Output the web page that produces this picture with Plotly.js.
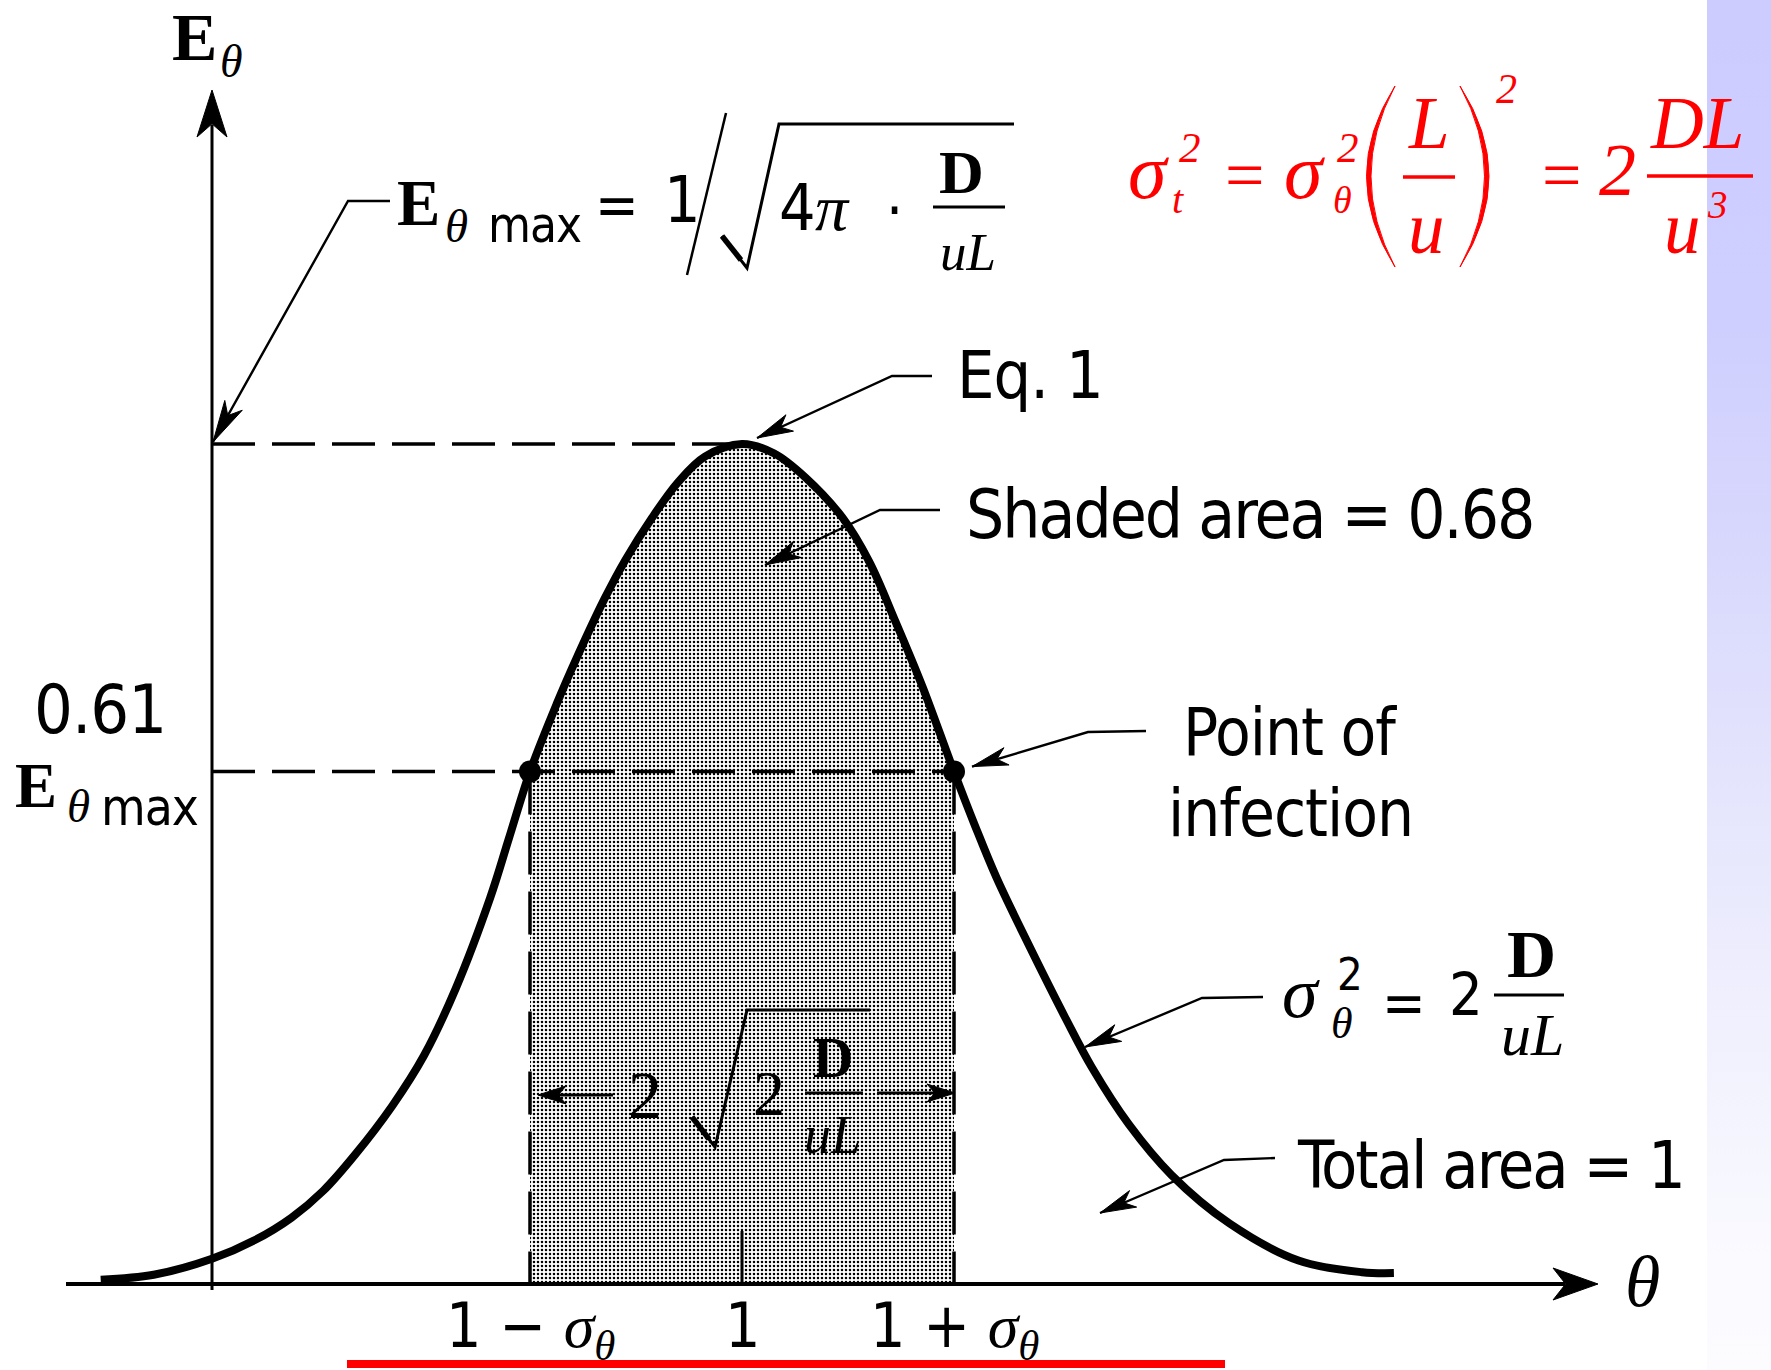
<!DOCTYPE html>
<html>
<head>
<meta charset="utf-8">
<script src="https://cdn.plot.ly/plotly-3.0.1.min.js"></script>
<style>
  html, body { margin: 0; padding: 0; background: #ffffff; overflow: hidden; }
  #wrap { position: relative; width: 1771px; height: 1370px; overflow: hidden; }
  #band { position: absolute; left: 1707px; top: 0; width: 64px; height: 1370px;
          background: linear-gradient(to bottom, #ccccff 0%, #ceceff 22%, #d8d8fd 40%, #e5e5fd 58%, #f1f1fe 76%, #fafaff 92%, #fcfcff 100%); }
  #chart { position: absolute; left: 0; top: 0; width: 1771px; height: 1370px; }
</style>
</head>
<body>
<div id="wrap"><div id="band"></div><div id="chart"></div></div>
<script>
// ---------------------------------------------------------------------------
// Dispersion model: exit-age distribution Eθ versus dimensionless time θ
// ---------------------------------------------------------------------------

// dimensionless time θ = t / t̄
const theta = [-0.21, -0.11, 0.00, 0.08, 0.15, 0.21, 0.27, 0.34, 0.40, 0.46,
               0.525, 0.56, 0.60, 0.65, 0.69, 0.74, 0.78, 0.83, 0.88, 0.93,
               1.00, 1.06, 1.12, 1.19, 1.24, 1.29, 1.34, 1.40, 1.44, 1.48,
               1.54, 1.61, 1.66, 1.73, 1.81, 1.92, 2.05, 2.17, 2.23];
// Eθ in units of Eθmax
const eTheta = [0.005, 0.011, 0.030, 0.052, 0.079, 0.111, 0.154, 0.212, 0.272, 0.352,
                0.460, 0.530, 0.610, 0.690, 0.748, 0.815, 0.862, 0.912, 0.955, 0.985,
                1.000, 0.989, 0.960, 0.912, 0.860, 0.788, 0.712, 0.610, 0.545, 0.484,
                0.405, 0.317, 0.258, 0.190, 0.130, 0.072, 0.028, 0.014, 0.013];

const sigmaTheta = 0.4;          // σθ
const eMax = 1.0;                // Eθmax (peak height)
const inflectionHeight = 0.61;   // Eθ at the points of inflection, in units of Eθmax
const tickTheta = [1 - sigmaTheta, 1, 1 + sigmaTheta];

// ---------------------------------------------------------------------------
const SANS = "'DejaVu Sans Condensed','DejaVu Sans',sans-serif";
const SERIF = "'Liberation Serif','DejaVu Serif','Times New Roman',serif";
const RED = '#ff0000';
const INK = '#000000';

const W = 1771, H = 1370;
const X0 = 212, XU = 530;   // pixel column of θ = 0, pixels per unit θ
const Y0 = 1284, YU = 840;  // pixel row of Eθ = 0, pixels per unit Eθ
const xRange = [-X0 / XU, (W - X0) / XU];
const yRange = [-(H - Y0) / YU, Y0 / YU];

const fx = p => p / W;          // paper x from pixel column
const fy = p => 1 - p / H;      // paper y from pixel row
const dataPx = t => X0 + t * XU;
const dataPy = e => Y0 - e * YU;

function pathPx(pts, close) {
  return pts.map((p, i) => (i ? 'L' : 'M') + fx(p[0]).toFixed(5) + ',' + fy(p[1]).toFixed(5)).join(' ') + (close ? ' Z' : '');
}
const shapes = [];
function stroke(pts, width, color, layer) {
  shapes.push({ type: 'path', xref: 'paper', yref: 'paper', path: pathPx(pts),
                line: { color: color || INK, width }, fillcolor: 'rgba(0,0,0,0)', layer: layer || 'above' });
}
function head(from, tip, len, half, color, layer) {
  const dx = tip[0] - from[0], dy = tip[1] - from[1], d = Math.hypot(dx, dy);
  const ux = dx / d, uy = dy / d, nx = -uy, ny = ux;
  const bx = tip[0] - ux * len, by = tip[1] - uy * len;
  const mx = tip[0] - ux * len * 0.72, my = tip[1] - uy * len * 0.72;
  shapes.push({ type: 'path', xref: 'paper', yref: 'paper',
                path: pathPx([tip, [bx + nx * half, by + ny * half], [mx, my], [bx - nx * half, by - ny * half]], true),
                fillcolor: color || INK, line: { color: color || INK, width: 1 }, layer: layer || 'above' });
}
function leader(pts, len, half) {
  stroke(pts, 2.4);
  head(pts[pts.length - 2], pts[pts.length - 1], len || 36, half || 9);
}

// --- axes -----------------------------------------------------------------
shapes.push({ type: 'line', xref: 'x', yref: 'paper', x0: 0, x1: 0, y0: fy(1290), y1: fy(125),
              line: { color: INK, width: 3 }, layer: 'below' });
head([dataPx(0), 300], [dataPx(0), 90], 47, 15, INK, 'below');
shapes.push({ type: 'line', xref: 'paper', yref: 'y', x0: fx(66), x1: fx(1565), y0: 0, y1: 0,
              line: { color: INK, width: 4 }, layer: 'below' });
head([1400, dataPy(0)], [1598, dataPy(0)], 45, 16, INK, 'below');
// tick at θ = 1
shapes.push({ type: 'line', xref: 'x', yref: 'y', x0: 1, x1: 1, y0: 0, y1: 53 / YU,
              line: { color: INK, width: 3 }, layer: 'below' });

// --- guide lines ----------------------------------------------------------
const DASH = '43px,17px';
shapes.push({ type: 'line', xref: 'x', yref: 'y', x0: 0, x1: 1, y0: eMax, y1: eMax,
              line: { color: INK, width: 3.5, dash: DASH }, layer: 'below' });
shapes.push({ type: 'line', xref: 'x', yref: 'y', x0: 0, x1: 1 + sigmaTheta, y0: inflectionHeight, y1: inflectionHeight,
              line: { color: INK, width: 3.5, dash: DASH }, layer: 'below' });
[1 - sigmaTheta, 1 + sigmaTheta].forEach(t => {
  shapes.push({ type: 'line', xref: 'x', yref: 'y', x0: t, x1: t, y0: inflectionHeight, y1: 0,
                line: { color: INK, width: 3.5, dash: DASH }, layer: 'below' });
});

// --- leaders --------------------------------------------------------------
leader([[390, 201], [348, 201], [dataPx(0) + 1, dataPy(eMax) - 2]], 42, 10);
leader([[932, 376], [892, 376], [757, dataPy(eMax) - 6]]);
leader([[940, 510], [880, 510], [765, 565]]);
leader([[1146, 731], [1088, 732], [972, dataPy(inflectionHeight) - 5]]);
leader([[1263, 997], [1202, 998], [1085, 1047]]);
leader([[1275, 1158], [1224, 1160], [1100, 1213]]);

// --- formula strokes ------------------------------------------------------
stroke([[726, 113], [687, 275]], 2.5);                         // 1 / ...
stroke([[722, 236], [747, 268], [779, 124], [1014, 124]], 3);  // radical
stroke([[722, 236], [741, 260]], 5.5);
stroke([[933, 207], [1005, 207]], 3);                          // D/uL bar
stroke([[1494, 995], [1564, 995]], 3);                         // D/uL bar (σθ²)
stroke([[692, 1117], [715, 1147], [747, 1010], [870, 1010]], 3); // inner radical
stroke([[692, 1117], [709, 1139]], 5.5);
stroke([[805, 1093], [863, 1093]], 3);                         // inner bar
stroke([[613, 1095], [552, 1095]], 3);
head([613, 1095], [538, 1095], 28, 9);
stroke([[877, 1093], [941, 1093]], 3);
head([877, 1093], [955, 1093], 28, 9);

// red formula: brackets and bars
function paren(xEnd, ctrlOuter, ctrlInner) {
  const p = `M${fx(xEnd)},${fy(86)} Q${fx(ctrlOuter)},${fy(176)} ${fx(xEnd)},${fy(267)} Q${fx(ctrlInner)},${fy(176)} ${fx(xEnd)},${fy(86)} Z`;
  shapes.push({ type: 'path', xref: 'paper', yref: 'paper', path: p, fillcolor: RED, line: { color: RED, width: 1 } });
}
paren(1395, 1338, 1347);
paren(1460, 1518, 1509);
stroke([[1403, 177], [1455, 177]], 3.5, RED);
stroke([[1647, 176], [1753, 176]], 3.5, RED);
// underline below the θ labels
stroke([[347, 1364], [1225, 1364]], 8, RED);

// --- text -----------------------------------------------------------------
const annotations = [];
const ASC = { sans: 0.928, serif: 0.891 };
function T(text, x, baseline, size, family, o) {
  o = o || {};
  const asc = family === SERIF ? ASC.serif : ASC.sans;
  const body = o.ls ? `<span style="letter-spacing:${o.ls}px;font-size:${size}px">${text}</span>` : text;
  annotations.push({ xref: 'paper', yref: 'paper', x: fx(o.anchor === 'center' ? x : x - 2),
                     y: fy(baseline - asc * size - 2), xanchor: o.anchor || 'left', yanchor: 'top',
                     text: body, showarrow: false, font: { family, size, color: o.color || INK } });
}
function TM(text, cx, cy, size, family, o) {
  o = o || {};
  annotations.push({ xref: 'paper', yref: 'paper', x: fx(cx), y: fy(cy), xanchor: 'center', yanchor: 'middle',
                     text, showarrow: false, font: { family, size, color: o.color || INK } });
}
const serif = (s, size) => `<span style="font-family:${SERIF};font-size:${size}px">${s}</span>`;
const C = { anchor: 'center' };

// axis titles
T('<b>E</b>', 172, 60, 68, SERIF);
T('<i>θ</i>', 220, 77, 46, SERIF);
T('<i>θ</i>', 1625, 1306, 72, SERIF);

// Eθmax = 1/√(4π·D/uL)
T('<b>E</b>', 397, 225, 65, SERIF);
T('<i>θ</i>', 445, 242, 47, SERIF);
T('max', 488, 242, 49, SANS, { ls: -1 });
TM('=', 617, 205, 58, SANS);
T('1', 664, 222, 64, SANS);
T('4', 779, 230, 64, SANS);
T('<i>π</i>', 815, 230, 66, SERIF);
TM('·', 894, 210, 60, SANS);
T('<b>D</b>', 961, 193, 62, SERIF, C);
T('<i>uL</i>', 968, 270, 53, SERIF, C);

// callouts
T('Eq. 1', 957, 398, 66, SANS, { ls: -1 });
T('Shaded area = 0.68', 966, 538, 67, SANS, { ls: -2 });
T('Point of', 1290, 755, 65, SANS, { anchor: 'center', ls: -1 });
T('infection', 1290, 836, 65, SANS, { anchor: 'center', ls: -1 });
T('Total area = 1', 1297, 1188, 66, SANS, { ls: -2 });

// σθ² = 2 D/uL
T('<i>σ</i>', 1282, 1017, 72, SERIF);
T('2', 1337, 990, 45, SANS);
T('<i>θ</i>', 1331, 1038, 44, SERIF);
TM('=', 1404, 1003, 58, SANS);
T('2', 1449, 1015, 59, SANS);
T('<b>D</b>', 1531, 977, 68, SERIF, C);
T('<i>uL</i>', 1532, 1055, 60, SERIF, C);

// level of the inflection points
T(inflectionHeight.toFixed(2), 34, 733, 68, SANS, { ls: -1 });
T('<b>E</b>', 15, 807, 63, SERIF);
T('<i>θ</i>', 67, 822, 47, SERIF);
T('max', 101, 825, 51, SANS, { ls: -1 });

// 2√(2D/uL) band width
T('2', 628, 1118, 68, SERIF);
T('2', 753, 1115, 64, SERIF);
T('<b>D</b>', 833, 1077, 56, SERIF, C);
T('<i>uL</i>', 832, 1153, 54, SERIF, C);

// θ tick labels
const sigmaLabel = `${serif('<i>σ</i>', 62)}<sub>${serif('<i>θ</i>', 43)}</sub>`;
const tickText = [`1 − ${sigmaLabel}`, '1', `1 + ${sigmaLabel}`];
tickTheta.forEach((t, i) => {
  annotations.push({ xref: 'x', yref: 'paper', x: t, y: fy(1347 - ASC.sans * 62 - 2), xanchor: 'center', yanchor: 'top',
                     text: tickText[i], showarrow: false, font: { family: SANS, size: 62, color: INK } });
});

// σt² = σθ² (L/u)² = 2 DL/u³
const R = { color: RED };
T('<i>σ</i>', 1128, 197, 78, SERIF, R);
T('<i>2</i>', 1179, 162, 43, SERIF, R);
T('<i>t</i>', 1172, 213, 40, SERIF, R);
TM('=', 1244, 176, 70, SERIF, R);
T('<i>σ</i>', 1284, 197, 78, SERIF, R);
T('<i>2</i>', 1337, 162, 43, SERIF, R);
T('<i>θ</i>', 1333, 213, 38, SERIF, R);
T('<i>L</i>', 1429, 148, 73, SERIF, { anchor: 'center', color: RED });
T('<i>u</i>', 1426, 253, 73, SERIF, { anchor: 'center', color: RED });
T('<i>2</i>', 1496, 103, 42, SERIF, R);
TM('=', 1561, 176, 70, SERIF, R);
T('<i>2</i>', 1599, 195, 74, SERIF, R);
T('<i>DL</i>', 1697, 148, 73, SERIF, { anchor: 'center', color: RED });
T('<i>u</i>', 1682, 253, 73, SERIF, { anchor: 'center', color: RED });
T('<i>3</i>', 1707, 218, 39, SERIF, R);

// --- traces ---------------------------------------------------------------
const lo = 1 - sigmaTheta - 1e-9, hi = 1 + sigmaTheta + 1e-9;
const bandX = [], bandY = [];
theta.forEach((t, i) => { if (t >= lo && t <= hi) { bandX.push(t); bandY.push(eTheta[i]); } });

const traces = [
  { x: bandX, y: bandY, type: 'scatter', mode: 'lines', fill: 'tozeroy',
    line: { width: 0, shape: 'spline', color: 'rgba(0,0,0,0)' },
    fillpattern: { shape: '.', size: 4, solidity: 0.32, fgcolor: '#000000', bgcolor: 'rgba(255,255,255,0)' },
    hoverinfo: 'skip', cliponaxis: false },
  { x: theta, y: eTheta, type: 'scatter', mode: 'lines',
    line: { color: INK, width: 8, shape: 'spline', smoothing: 1 }, cliponaxis: false },
  { x: [1 - sigmaTheta, 1 + sigmaTheta], y: [inflectionHeight, inflectionHeight], type: 'scatter', mode: 'markers',
    marker: { color: INK, size: 22 }, cliponaxis: false }
];

const layout = {
  width: W, height: H, autosize: false,
  margin: { l: 0, r: 0, t: 0, b: 0, pad: 0 },
  paper_bgcolor: 'rgba(0,0,0,0)', plot_bgcolor: 'rgba(0,0,0,0)',
  showlegend: false,
  xaxis: { range: xRange, visible: false, fixedrange: true, tickvals: tickTheta },
  yaxis: { range: yRange, visible: false, fixedrange: true },
  shapes, annotations
};

Plotly.newPlot('chart', traces, layout, { staticPlot: true, displayModeBar: false });
</script>
</body>
</html>
